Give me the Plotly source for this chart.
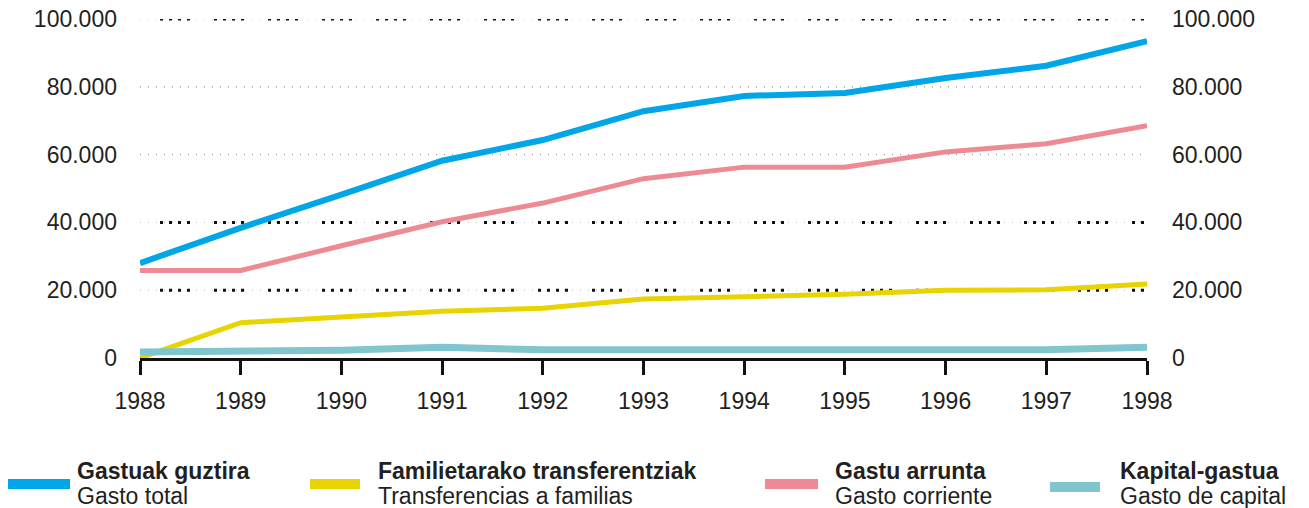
import plotly.graph_objects as go

years = [1988, 1989, 1990, 1991, 1992, 1993, 1994, 1995, 1996, 1997, 1998]
gasto_total = [28000, 38400, 48200, 58200, 64300, 72800, 77300, 78200, 82600, 86200, 93500]
gasto_corriente = [25800, 25800, 33100, 40200, 45700, 52900, 56300, 56300, 60800, 63200, 68500]
transferencias = [0, 10400, 12100, 13800, 14700, 17400, 18100, 18800, 20000, 20100, 21800]
gasto_capital = [1800, 1800, 2300, 3200, 2400, 2400, 2400, 2400, 2400, 2400, 3200]

y_ticks = [0, 20000, 40000, 60000, 80000, 100000]
y_labels = ["0", "20.000", "40.000", "60.000", "80.000", "100.000"]
heavy_grid = [20000, 40000, 100000]
light_grid = [60000, 80000]

series_eu = ["Gastuak guztira", "Familietarako transferentziak", "Gastu arrunta", "Kapital-gastua"]
series_es = ["Gasto total", "Transferencias a familias", "Gasto corriente", "Gasto de capital"]
colors = ["#00a6e8", "#e9d300", "#ee8a93", "#80c6cf"]
widths = [6, 5, 5, 7]

FONT = "Liberation Sans, Arial, sans-serif"
TXT = "#231f20"
OFF = 8  # page body margin
W, H = 1301, 500
L, R, T, B = 132, 162, 11, 150
PW, PH = W - L - R, H - T - B

def px(x):
    return (x - OFF - L) / PW

def py(y):
    return (H - B - (y - OFF)) / PH

fig = go.Figure()
data = [gasto_total, transferencias, gasto_corriente, gasto_capital]
for vals, name, c, w in zip(data, series_es, colors, widths):
    fig.add_trace(go.Scatter(x=years, y=vals, mode="lines", name=name,
                             line=dict(color=c, width=w), showlegend=False))

# invisible trace for right axis
fig.add_trace(go.Scatter(x=years, y=gasto_total, yaxis="y2", mode="lines",
                         line=dict(width=0), hoverinfo="skip", showlegend=False, opacity=0))

shapes = []
for v in heavy_grid:
    shapes.append(dict(type="line", xref="paper", x0=0, x1=1, yref="y", y0=v, y1=v,
                       line=dict(color="#c8c8c8", width=1.2, dash="1px,7px"), layer="below"))
    shapes.append(dict(type="line", xref="paper", x0=20 / PW, x1=1, yref="y", y0=v, y1=v,
                       line=dict(color="#111111", width=3, dash="3px,6px,3px,6px,3px,6px,3px,24px"),
                       layer="below"))
for v in light_grid:
    shapes.append(dict(type="line", xref="paper", x0=0, x1=1, yref="y", y0=v, y1=v,
                       line=dict(color="#999999", width=1.2, dash="1px,7px"), layer="below"))

annotations = []
sw_x = [(8, 70), (310, 360), (765, 818), (1050, 1100)]
sw_y = [484, 484, 484, 487]
txt_x = [77, 378, 835, 1120]
for i in range(4):
    shapes.append(dict(type="rect", xref="paper", yref="paper",
                       x0=px(sw_x[i][0]), x1=px(sw_x[i][1]),
                       y0=py(sw_y[i] + 5), y1=py(sw_y[i] - 5),
                       fillcolor=colors[i], line=dict(width=0)))
    annotations.append(dict(xref="paper", yref="paper", x=px(txt_x[i]), y=py(471),
                            text="<b>" + series_eu[i] + "</b>", showarrow=False,
                            xanchor="left", yanchor="middle", xshift=-2,
                            font=dict(family=FONT, size=23, color=TXT)))
    annotations.append(dict(xref="paper", yref="paper", x=px(txt_x[i]), y=py(496),
                            text=series_es[i], showarrow=False,
                            xanchor="left", yanchor="middle", xshift=-2,
                            font=dict(family=FONT, size=23, color=TXT)))

fig.update_layout(
    width=W, height=H,
    margin=dict(l=L, r=R, t=T, b=B, autoexpand=False),
    plot_bgcolor="white", paper_bgcolor="white",
    font=dict(family=FONT, size=22, color=TXT),
    showlegend=False,
    shapes=shapes,
    annotations=annotations,
    xaxis=dict(range=[1988, 1998], tickmode="array", tickvals=years,
               ticktext=[str(y) for y in years],
               showgrid=False, zeroline=False, automargin=False,
               showline=True, linecolor="#111111", linewidth=3,
               ticks="outside", ticklen=14, tickwidth=3, tickcolor="#111111",
               ticklabelstandoff=6, ticklabeloverflow="allow",
               tickfont=dict(family=FONT, size=23, color=TXT)),
    yaxis=dict(range=[0, 100000], tickmode="array", tickvals=y_ticks, ticktext=y_labels,
               showgrid=False, zeroline=False, showline=False, ticks="", automargin=False,
               ticklabelstandoff=22, ticklabeloverflow="allow",
               tickfont=dict(family=FONT, size=23, color=TXT)),
    yaxis2=dict(range=[0, 100000], overlaying="y", side="right", tickmode="array",
                tickvals=y_ticks, ticktext=y_labels, automargin=False,
                showgrid=False, zeroline=False, showline=False, ticks="",
                ticklabelstandoff=24, ticklabeloverflow="allow",
                tickfont=dict(family=FONT, size=23, color=TXT)),
)

fig.write_html("out.html")
